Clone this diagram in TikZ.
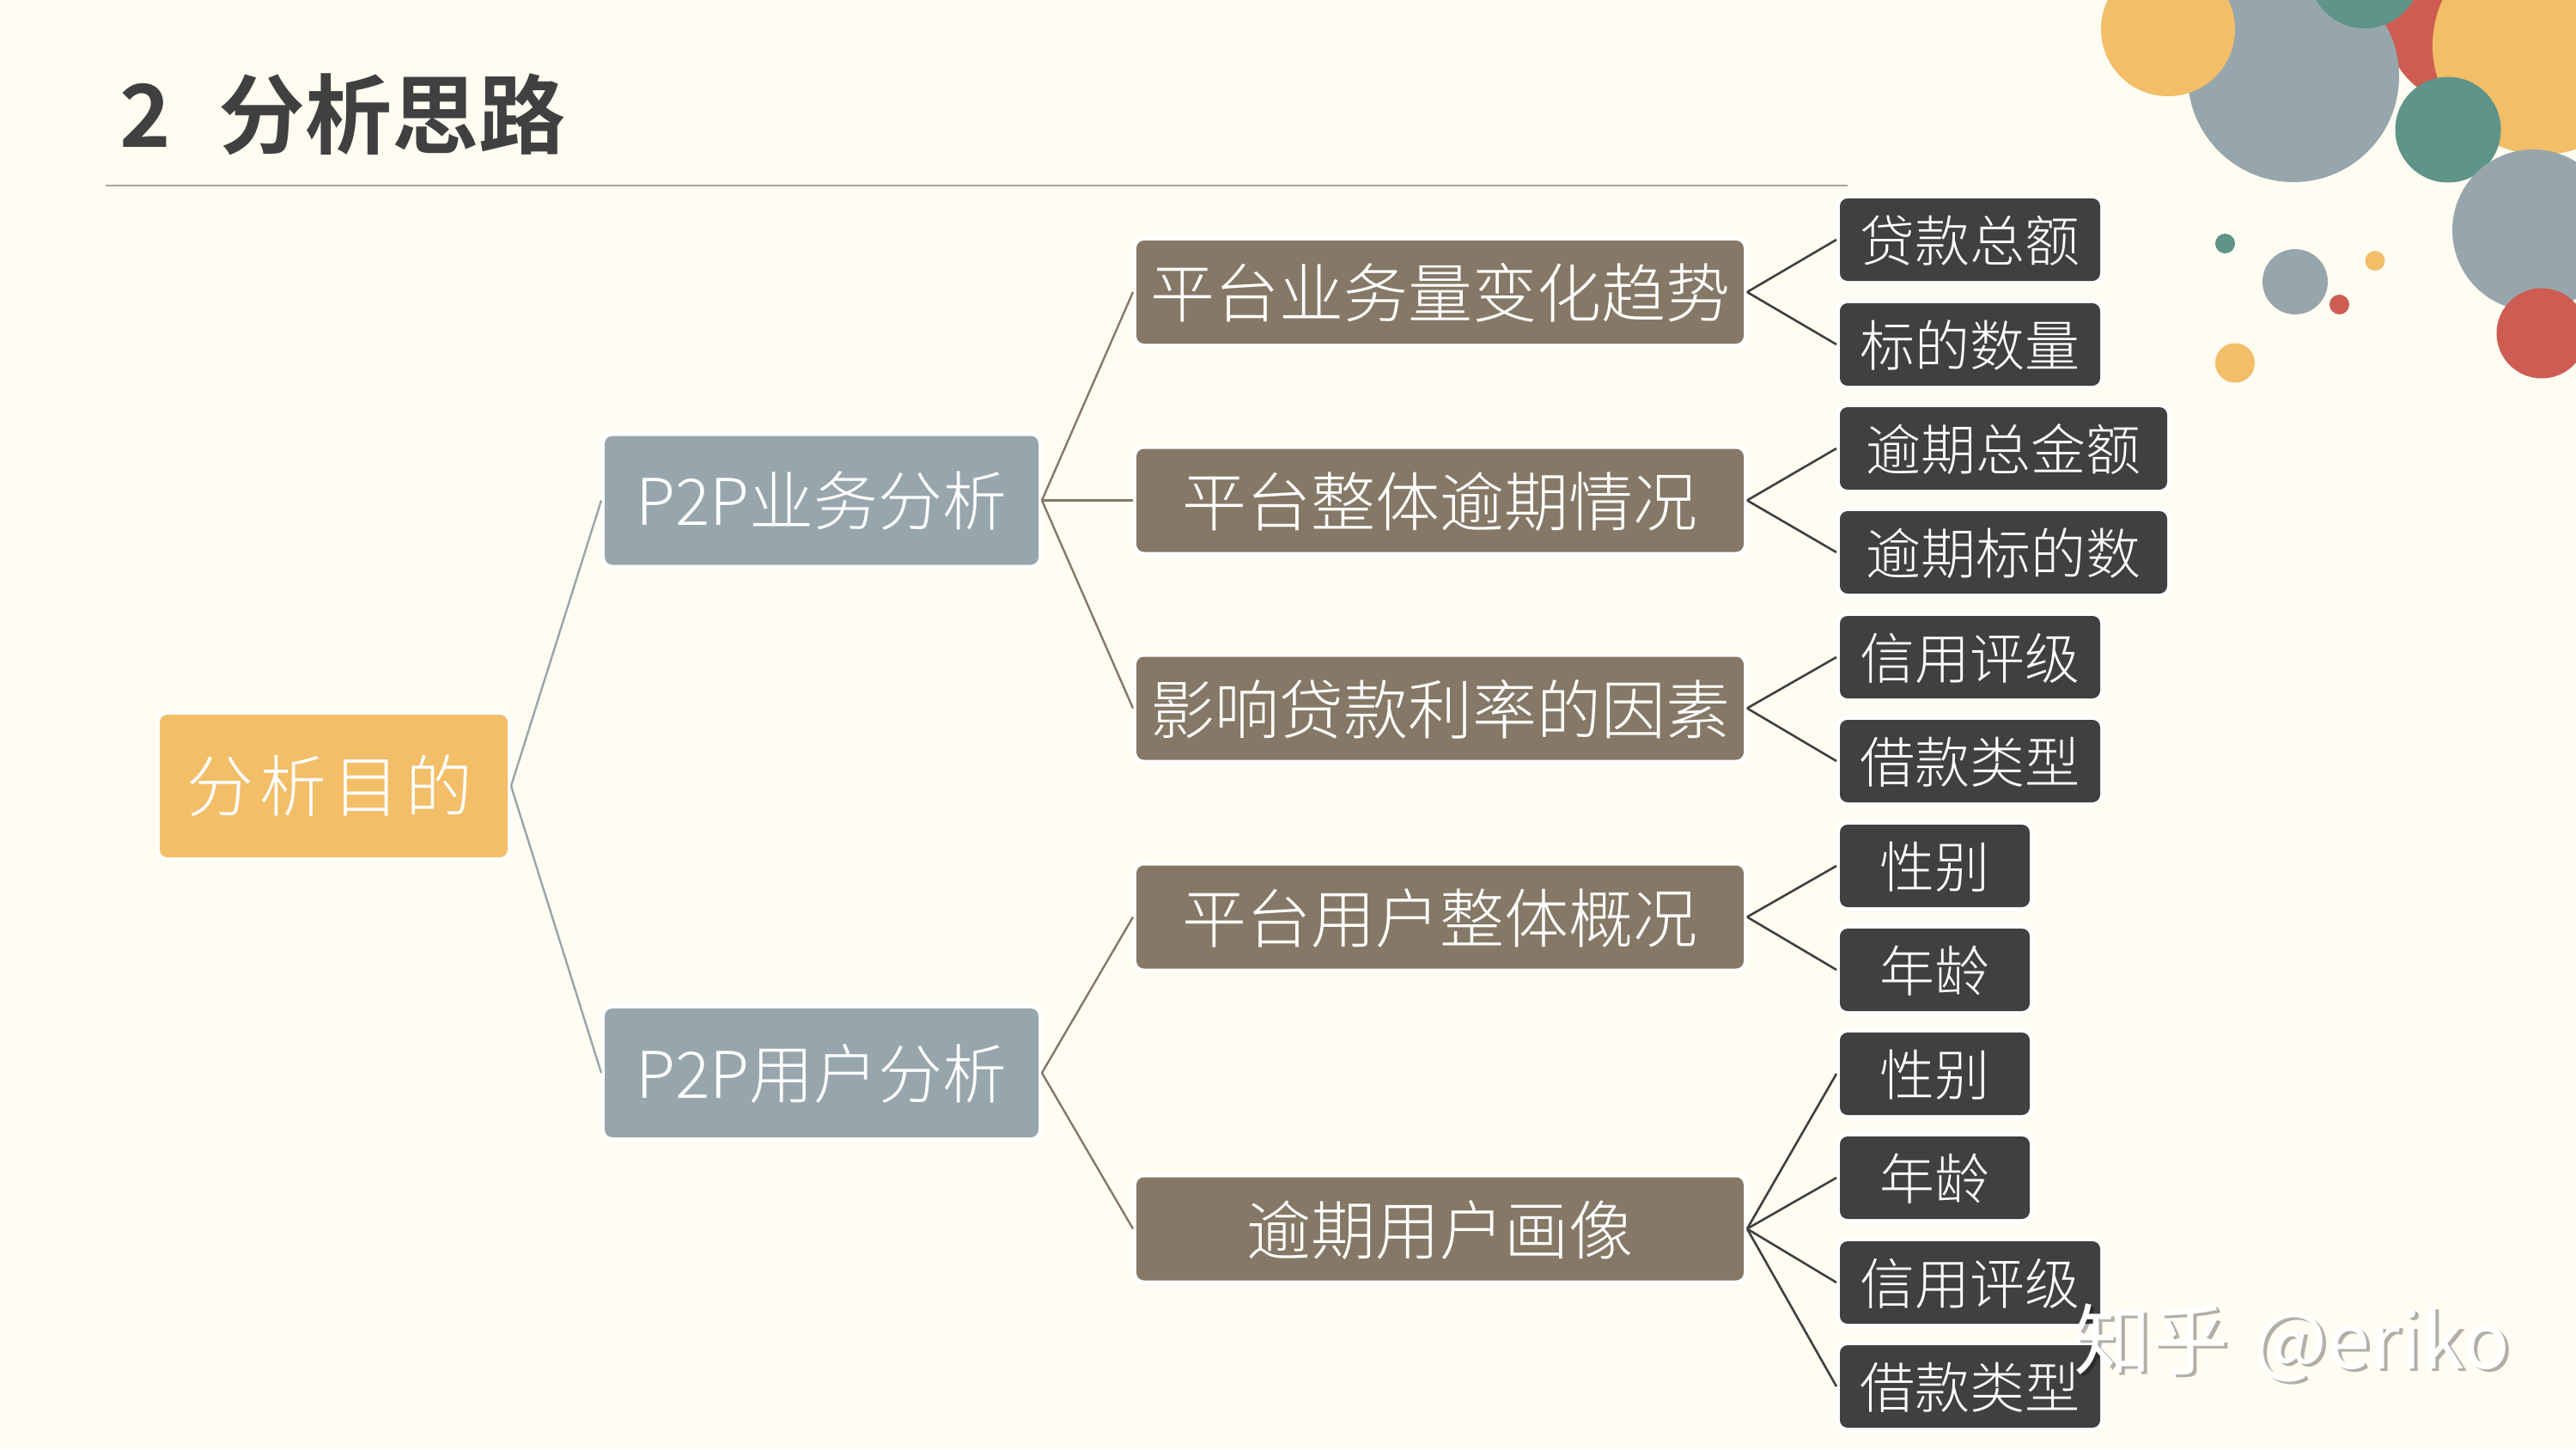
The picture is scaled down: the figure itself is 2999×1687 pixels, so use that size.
\documentclass[tikz,border=0pt]{standalone}
\usepackage{fontspec}
\newfontfamily\cjklight{Noto Sans CJK SC Light}
\newfontfamily\cjkbold{Noto Sans CJK SC Bold}
\newfontfamily\cjkreg{Noto Sans CJK SC}
\definecolor{bgc}{HTML}{FFFCF2}
\definecolor{halo}{HTML}{FFFFFD}
\definecolor{yel}{HTML}{F2BE67}
\definecolor{gry}{HTML}{97A6AC}
\definecolor{tea}{HTML}{5F9488}
\definecolor{red1}{HTML}{CD5D52}
\definecolor{brn}{HTML}{857866}
\definecolor{drk}{HTML}{404040}
\tikzset{
  box/.style={rounded corners=4.5pt,inner sep=0pt,outer sep=2pt,text=white,align=center,
    preaction={draw=halo,line width=5pt}},
  rootbox/.style={box,fill=yel,minimum width=202.5pt,minimum height=83pt,
    font=\cjklight\fontsize{39}{39}\selectfont\addfontfeatures{LetterSpace=9},text height=32pt,text depth=3pt},
  twobox/.style={box,fill=gry,minimum width=252.5pt,minimum height=75pt,
    font=\cjklight\fontsize{37.5}{37.5}\selectfont,text height=31pt,text depth=2pt},
  threebox/.style={box,fill=brn,minimum width=353.5pt,minimum height=60pt,
    font=\cjklight\fontsize{37.5}{37.5}\selectfont,text height=32pt,text depth=2.5pt},
  leaf/.style={box,fill=drk,minimum height=48pt,anchor=west,
    font=\cjklight\fontsize{32}{32}\selectfont,text height=27.5pt,text depth=2pt},
  leafa/.style={leaf,minimum width=110.5pt},
  leafb/.style={leaf,minimum width=151.5pt},
  leafc/.style={leaf,minimum width=190.5pt},
  lineone/.style={draw=gry,line width=1.2pt},
  linetwo/.style={draw=brn,line width=1.2pt},
  linethree/.style={draw=drk,line width=1.3pt},
}
\begin{document}
\begin{tikzpicture}[x=.5pt,y=-.5pt]
\useasboundingbox (0,0) rectangle (2999,1687);
\fill[bgc] (0,0) rectangle (2999,1687);
\begin{scope}
\clip (0,0) rectangle (2999,1687);
\fill[red1] (2880,20) circle[radius=105];
\fill[gry] (2670,89) circle[radius=123];
\fill[yel] (2524,34) circle[radius=78];
\fill[tea] (2753,-32) circle[radius=65];
\fill[yel] (2959,53) circle[radius=127];
\fill[tea] (2850,151) circle[radius=61.5];
\fill[gry] (2949,268) circle[radius=94];
\fill[red1] (2959,388) circle[radius=52.5];
\fill[tea] (2590.5,283.5) circle[radius=11.5];
\fill[gry] (2672,328) circle[radius=38];
\fill[yel] (2765,303.5) circle[radius=11.5];
\fill[red1] (2723.5,354.5) circle[radius=11.5];
\fill[yel] (2602,422.5) circle[radius=23];
\end{scope}
\node[anchor=base west,inner sep=0pt,text=drk,font=\cjkbold\fontsize{50.5}{50.5}\selectfont] (title) at (139,171) {2\hspace{28pt}分析思路};
\coordinate (ruleA) at (123,216);
\coordinate (ruleB) at (2151,216);
\draw[draw=black!35!bgc,line width=1pt] (ruleA) -- (ruleB);

\node[rootbox] (root) at (388.5,915) {分析目的\rule{4pt}{0pt}};
\node[twobox] (bus) at (956.5,582.5) {P2P业务分析};
\node[twobox] (usr) at (956.5,1249) {P2P用户分析};
\node[threebox] (t1) at (1676.5,340) {平台业务量变化趋势};
\node[threebox] (t2) at (1676.5,582.5) {平台整体逾期情况};
\node[threebox] (t3) at (1676.5,824.5) {影响贷款利率的因素};
\node[threebox] (t4) at (1676.5,1067.5) {平台用户整体概况};
\node[threebox] (t5) at (1676.5,1430.5) {逾期用户画像};

\node[leafb] (a1) at (2138,279) {贷款总额};
\node[leafb] (a2) at (2138,401) {标的数量};
\node[leafc] (b1) at (2138,522) {逾期总金额};
\node[leafc] (b2) at (2138,643) {逾期标的数};
\node[leafb] (c1) at (2138,765) {信用评级};
\node[leafb] (c2) at (2138,886) {借款类型};
\node[leafa] (d1) at (2138,1008) {性别};
\node[leafa] (d2) at (2138,1129) {年龄};
\node[leafa] (e1) at (2138,1250) {性别};
\node[leafa] (e2) at (2138,1371) {年龄};
\node[leafb] (e3) at (2138,1493) {信用评级};
\node[leafb] (e4) at (2138,1614) {借款类型};

\draw[lineone] (root.east) -- (bus.west);
\draw[lineone] (root.east) -- (usr.west);
\foreach \k in {t1,t2,t3} \draw[linetwo] (bus.east) -- (\k.west);
\foreach \k in {t4,t5} \draw[linetwo] (usr.east) -- (\k.west);
\foreach \k in {a1,a2} \draw[linethree] (t1.east) -- (\k.west);
\foreach \k in {b1,b2} \draw[linethree] (t2.east) -- (\k.west);
\foreach \k in {c1,c2} \draw[linethree] (t3.east) -- (\k.west);
\foreach \k in {d1,d2} \draw[linethree] (t4.east) -- (\k.west);
\foreach \k in {e1,e2,e3,e4} \draw[linethree] (t5.east) -- (\k.west);

\node[anchor=base west,inner sep=0pt,text=black,text opacity=.3,font=\cjkreg\fontsize{45}{45}\selectfont] (markshadow) at (2418,1596) {知乎\hspace{15pt}@eriko};
\node[anchor=base west,inner sep=0pt,text=white,font=\cjkreg\fontsize{45}{45}\selectfont] (mark) at (2414,1593) {知乎\hspace{15pt}@eriko};
\end{tikzpicture}
\end{document}
